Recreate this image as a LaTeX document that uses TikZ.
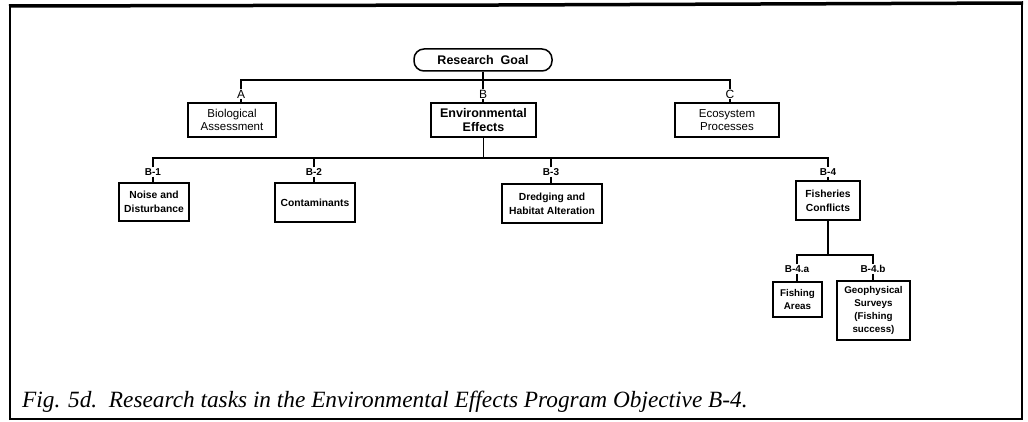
\documentclass[tikz,border=0pt]{standalone}
\usepackage{fontspec}
\setmainfont{Liberation Serif}
\newfontfamily\labelsans{Liberation Sans}
\begin{document}
\begin{tikzpicture}[x=1pt,y=-1pt,
  box/.style={draw,line width=1.5pt,rectangle,inner sep=0pt,align=center,
              font=\labelsans\fontsize{11.5}{13}\selectfont},
  boldbox/.style={box,font=\labelsans\bfseries\fontsize{12.5}{14}\selectfont},
  taskbox/.style={box,font=\labelsans\bfseries\fontsize{10.3}{14}\selectfont},
  subbox/.style={box,font=\labelsans\bfseries\fontsize{9.8}{12.7}\selectfont},
  goalbox/.style={draw,line width=1.5pt,rectangle,rounded corners=10pt,inner sep=0pt,
              font=\labelsans\bfseries\fontsize{12.5}{14}\selectfont},
  letter/.style={inner sep=1pt,font=\labelsans\fontsize{12}{13}\selectfont},
  code/.style={inner sep=1pt,font=\labelsans\bfseries\fontsize{10}{11}\selectfont},
  link/.style={line width=1.3pt},
  frame/.style={line width=2.5pt}]
\useasboundingbox (0,0) rectangle (1028,422);

% outer frame
\draw[frame] (10,420) -- (10,6);
\draw[line width=3.5pt] (9,6) -- (500,5) -- (1023,3);
\draw[frame] (1022,4) -- (1022,419);
\draw[frame] (9,419) -- (1023,419);

% top level
\node[goalbox,minimum width=138pt,minimum height=22pt] (goal) at (483,60) {Research\ \ Goal};

\node[letter] (lblA) at (241,94) {A};
\node[letter] (lblB) at (483,94) {B};
\node[letter] (lblC) at (730,94) {C};

\node[box,minimum width=88pt,minimum height=34pt] (bio) at (232,120) {Biological\\Assessment};
\node[boldbox,minimum width=105pt,minimum height=34pt] (env) at (483.5,120) {Environmental\\Effects};
\node[box,minimum width=104pt,minimum height=34pt] (eco) at (727,120) {Ecosystem\\Processes};

\coordinate (busA) at (241,80);
\coordinate (busC) at (730,80);
\draw[link] (lblA.north) -- (busA) -- (busC) -- (lblC.north);
\draw[link] (goal.south) -- (lblB.north);
\draw[link] (lblA.south) -- (lblA.south |- bio.north);
\draw[link] (lblB.south) -- (lblB.south |- env.north);
\draw[link] (lblC.south) -- (lblC.south |- eco.north);

% objective B tasks
\node[code] (b1) at (153,172) {B-1};
\node[code] (b2) at (314,172) {B-2};
\node[code] (b3) at (551,172) {B-3};
\node[code] (b4) at (828,172) {B-4};

\node[taskbox,minimum width=70pt,minimum height=38pt] (noise) at (154,202) {Noise and\\Disturbance};
\node[taskbox,minimum width=80pt,minimum height=39pt] (contam) at (315,202.5) {Contaminants};
\node[taskbox,minimum width=100pt,minimum height=39pt] (dredge) at (552,203.5) {Dredging and\\Habitat Alteration};
\node[taskbox,minimum width=64pt,minimum height=39pt] (fish) at (828,200.5) {Fisheries\\Conflicts};

\coordinate (bus1) at (153,158);
\coordinate (bus4) at (828,158);
\draw[link] (b1.north) -- (bus1) -- (bus4) -- (b4.north);
\draw[link] (env.south) -- (env.south |- bus1);
\draw[link] (b2.north) -- (b2.north |- bus1);
\draw[link] (b3.north) -- (b3.north |- bus1);
\draw[link] (b1.south) -- (b1.south |- noise.north);
\draw[link] (b2.south) -- (b2.south |- contam.north);
\draw[link] (b3.south) -- (b3.south |- dredge.north);
\draw[link] (b4.south) -- (b4.south |- fish.north);

% fisheries sub-tasks
\node[code] (b4a) at (797,269) {B-4.a};
\node[code] (b4b) at (873,269) {B-4.b};

\node[subbox,minimum width=49pt,minimum height=35pt] (areas) at (797.5,299.5) {Fishing\\Areas};
\node[subbox,minimum width=73pt,minimum height=59pt] (geo) at (873.5,310.5) {Geophysical\\Surveys\\(Fishing\\success)};

\coordinate (busa) at (797,255);
\coordinate (busb) at (873,255);
\draw[link] (fish.south) -- (fish.south |- busa);
\draw[link] (b4a.north) -- (busa) -- (busb) -- (b4b.north);
\draw[link] (b4a.south) -- (b4a.south |- areas.north);
\draw[link] (b4b.south) -- (b4b.south |- geo.north);

% caption
\node[anchor=base west,inner sep=0pt,font=\itshape\fontsize{23.3}{27}\selectfont] (caption) at (22,407)
  {Fig. 5d.\ \ Research tasks in the Environmental Effects Program Objective B-4.};
\end{tikzpicture}
\end{document}
